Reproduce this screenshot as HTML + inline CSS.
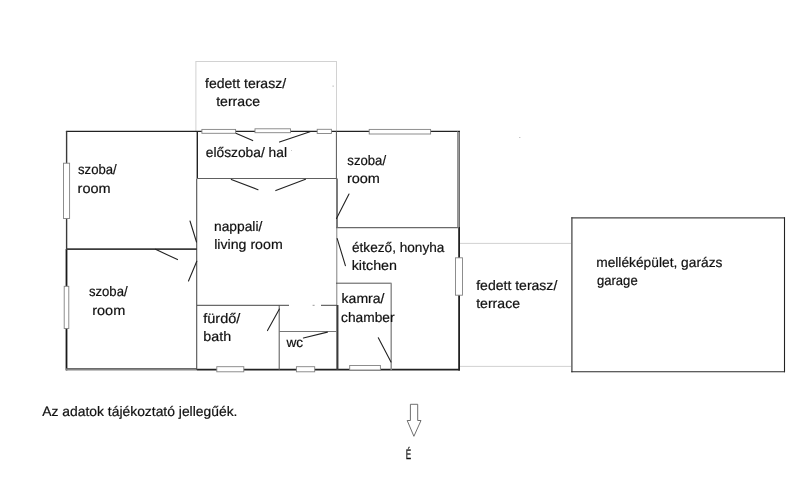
<!DOCTYPE html>
<html lang="hu"><head><meta charset="utf-8"><title>Alaprajz</title>
<style>
html,body{margin:0;padding:0;background:#fff;}
body{width:800px;height:492px;overflow:hidden;}
svg{display:block;filter:grayscale(1);}
text{font-family:"Liberation Sans",sans-serif;fill:#111;stroke:#111;stroke-width:0.2px;text-rendering:geometricPrecision;}
</style></head><body>
<svg width="800" height="492" viewBox="0 0 800 492">
<rect width="800" height="492" fill="#fff"/>
<line x1="195.5" y1="61.5" x2="337" y2="61.5" stroke="#d2d2d2" stroke-width="1" stroke-linecap="butt"/>
<line x1="195.9" y1="61.5" x2="195.9" y2="131" stroke="#d2d2d2" stroke-width="1" stroke-linecap="butt"/>
<line x1="336.5" y1="61.5" x2="336.5" y2="131" stroke="#d2d2d2" stroke-width="1" stroke-linecap="butt"/>
<line x1="459" y1="243.4" x2="571" y2="243.4" stroke="#d2d2d2" stroke-width="1" stroke-linecap="butt"/>
<line x1="459" y1="366.4" x2="571" y2="366.4" stroke="#d2d2d2" stroke-width="1" stroke-linecap="butt"/>
<line x1="65.9" y1="131.4" x2="460" y2="131.4" stroke="#222" stroke-width="1.3" stroke-linecap="butt"/>
<line x1="66.6" y1="131" x2="66.6" y2="249" stroke="#3a3a3a" stroke-width="1.4" stroke-linecap="butt"/>
<line x1="66.5" y1="249" x2="66.5" y2="370.4" stroke="#1a1a1a" stroke-width="1.8" stroke-linecap="butt"/>
<line x1="66" y1="369.4" x2="197" y2="369.4" stroke="#858585" stroke-width="2.3" stroke-linecap="butt"/>
<line x1="66" y1="368.5" x2="197" y2="368.5" stroke="#555" stroke-width="0.7" stroke-linecap="butt"/>
<line x1="197" y1="369.55" x2="460" y2="369.55" stroke="#222" stroke-width="1.8" stroke-linecap="butt"/>
<line x1="457.5" y1="131.4" x2="457.5" y2="227.6" stroke="#888" stroke-width="0.9" stroke-linecap="butt"/>
<line x1="459.1" y1="131" x2="459.1" y2="227.6" stroke="#222" stroke-width="1.1" stroke-linecap="butt"/>
<line x1="459.1" y1="227" x2="459.1" y2="370.4" stroke="#222" stroke-width="1.8" stroke-linecap="butt"/>
<line x1="197.3" y1="131" x2="197.3" y2="179" stroke="#222" stroke-width="1.4" stroke-linecap="butt"/>
<line x1="196.7" y1="179" x2="196.7" y2="370" stroke="#505050" stroke-width="1.1" stroke-linecap="butt"/>
<line x1="336.4" y1="131" x2="336.4" y2="178.4" stroke="#555" stroke-width="1.0" stroke-linecap="butt"/>
<line x1="337" y1="178.4" x2="337" y2="228" stroke="#333" stroke-width="1.3" stroke-linecap="butt"/>
<line x1="336.8" y1="228" x2="336.8" y2="305" stroke="#808080" stroke-width="1.0" stroke-linecap="butt"/>
<line x1="337.4" y1="305" x2="337.4" y2="370" stroke="#3a3a3a" stroke-width="2.1" stroke-linecap="butt"/>
<line x1="197" y1="178.5" x2="337" y2="178.5" stroke="#606060" stroke-width="1.1" stroke-linecap="butt"/>
<line x1="66" y1="249.1" x2="197" y2="249.1" stroke="#3c3c3c" stroke-width="1.6" stroke-linecap="butt"/>
<line x1="336" y1="227.6" x2="459" y2="227.6" stroke="#6a6a6a" stroke-width="1.2" stroke-linecap="butt"/>
<line x1="197" y1="305.3" x2="289" y2="305.3" stroke="#444" stroke-width="1.0" stroke-linecap="butt"/>
<line x1="312.6" y1="305.3" x2="314.6" y2="305.3" stroke="#999" stroke-width="1.0" stroke-linecap="butt"/>
<line x1="321" y1="305.3" x2="337" y2="305.3" stroke="#444" stroke-width="1.0" stroke-linecap="butt"/>
<line x1="279.2" y1="305" x2="279.2" y2="370" stroke="#555" stroke-width="1.0" stroke-linecap="butt"/>
<line x1="279" y1="331.5" x2="337" y2="331.5" stroke="#777" stroke-width="1.0" stroke-linecap="butt"/>
<line x1="336" y1="283.2" x2="391.5" y2="283.2" stroke="#555" stroke-width="1.0" stroke-linecap="butt"/>
<line x1="391.2" y1="283.2" x2="391.2" y2="370" stroke="#8a8a8a" stroke-width="1.4" stroke-linecap="butt"/>
<line x1="235.3" y1="133" x2="252.7" y2="140.6" stroke="#222" stroke-width="1.1" stroke-linecap="round"/>
<line x1="310" y1="131.7" x2="279.5" y2="142" stroke="#222" stroke-width="1.1" stroke-linecap="round"/>
<line x1="231.3" y1="179.4" x2="258" y2="189.7" stroke="#222" stroke-width="1.1" stroke-linecap="round"/>
<line x1="305.5" y1="179.2" x2="275.8" y2="190.6" stroke="#222" stroke-width="1.1" stroke-linecap="round"/>
<line x1="190" y1="221" x2="196.5" y2="242" stroke="#222" stroke-width="1.1" stroke-linecap="round"/>
<line x1="155.5" y1="249.3" x2="177.5" y2="259.6" stroke="#222" stroke-width="1.1" stroke-linecap="round"/>
<line x1="196.8" y1="261.2" x2="188.5" y2="281" stroke="#222" stroke-width="1.1" stroke-linecap="round"/>
<line x1="349" y1="194" x2="336.5" y2="218.5" stroke="#222" stroke-width="1.1" stroke-linecap="round"/>
<line x1="337.2" y1="238.6" x2="345.4" y2="265.6" stroke="#222" stroke-width="1.1" stroke-linecap="round"/>
<line x1="279.4" y1="309.1" x2="267.5" y2="330.6" stroke="#222" stroke-width="1.1" stroke-linecap="round"/>
<line x1="327.4" y1="332.1" x2="303.4" y2="338" stroke="#222" stroke-width="1.1" stroke-linecap="round"/>
<line x1="378.3" y1="337.8" x2="391" y2="361.9" stroke="#222" stroke-width="1.1" stroke-linecap="round"/>
<rect x="201.9" y="129.4" width="33.7" height="3.9" fill="#fff" stroke="#828282" stroke-width="0.9"/>
<rect x="255" y="128.8" width="35.5" height="3.9" fill="#fff" stroke="#828282" stroke-width="0.9"/>
<rect x="317.2" y="129.3" width="14.2" height="4.2" fill="#fff" stroke="#828282" stroke-width="0.9"/>
<rect x="369.2" y="129.4" width="61.4" height="4.6" fill="#fff" stroke="#828282" stroke-width="0.9"/>
<rect x="63.5" y="163.2" width="6.1" height="55.3" fill="#fff" stroke="#828282" stroke-width="0.9"/>
<rect x="64.2" y="286.3" width="4.6" height="42.2" fill="#fff" stroke="#828282" stroke-width="0.9"/>
<rect x="455.5" y="257.8" width="7.0" height="37.4" fill="#fff" stroke="#828282" stroke-width="0.9"/>
<rect x="216.8" y="366.7" width="27.0" height="5.1" fill="#fff" stroke="#828282" stroke-width="0.9"/>
<rect x="296.4" y="366.7" width="18.3" height="5.1" fill="#fff" stroke="#828282" stroke-width="0.9"/>
<rect x="349.7" y="365.5" width="30.7" height="4.5" fill="#fff" stroke="#828282" stroke-width="0.9"/>
<line x1="571.3" y1="217.9" x2="785" y2="217.9" stroke="#444" stroke-width="1.25" stroke-linecap="butt"/>
<line x1="571.9" y1="217.3" x2="571.9" y2="372.2" stroke="#444" stroke-width="1.25" stroke-linecap="butt"/>
<line x1="784.5" y1="217.3" x2="784.5" y2="372.2" stroke="#222" stroke-width="1.1" stroke-linecap="butt"/>
<line x1="571.3" y1="371.7" x2="785" y2="371.7" stroke="#2a2a2a" stroke-width="1.15" stroke-linecap="butt"/>
<path d="M410.4 404.3H417.7V420.5H421L413.9 436.3L407.2 420.5H410.4Z" fill="#fff" stroke="#555" stroke-width="0.85"/>
<rect x="332.6" y="85.6" width="1" height="1" fill="#999"/>
<rect x="291.2" y="150" width="0.8" height="0.8" fill="#aaa"/>
<rect x="519.3" y="137" width="1" height="0.8" fill="#999"/>
<text transform="translate(204.99 87.50) rotate(0.02) scale(1.0250 1)" font-size="13.7">fedett terasz/</text>
<text transform="translate(216.19 105.80) rotate(0.02) scale(1.0287 1)" font-size="13.7">terrace</text>
<text transform="translate(205.74 157.40) rotate(0.02) scale(1.0071 1)" font-size="13.7">előszoba/ hal</text>
<text transform="translate(78.05 173.70) rotate(0.02) scale(0.9597 1)" font-size="13.7">szoba/</text>
<text transform="translate(77.58 192.60) rotate(0.02) scale(1.0591 1)" font-size="13.7">room</text>
<text transform="translate(347.35 164.50) rotate(0.02) scale(0.9597 1)" font-size="13.7">szoba/</text>
<text transform="translate(346.91 182.50) rotate(0.02) scale(1.0591 1)" font-size="13.7">room</text>
<text transform="translate(213.98 230.70) rotate(0.02) scale(1.0083 1)" font-size="13.7">nappali/</text>
<text transform="translate(214.16 248.90) rotate(0.02) scale(1.0354 1)" font-size="13.7">living room</text>
<text transform="translate(352.01 252.10) rotate(0.02) scale(0.9949 1)" font-size="13.7">étkező, honyha</text>
<text transform="translate(351.69 270.30) rotate(0.02) scale(1.0458 1)" font-size="13.7">kitchen</text>
<text transform="translate(88.90 296.30) rotate(0.02) scale(0.9597 1)" font-size="13.7">szoba/</text>
<text transform="translate(92.19 314.60) rotate(0.02) scale(1.0591 1)" font-size="13.7">room</text>
<text transform="translate(203.21 323.40) rotate(0.02) scale(1.0601 1)" font-size="13.7">fürdő/</text>
<text transform="translate(203.32 341.30) rotate(0.02) scale(1.0420 1)" font-size="13.7">bath</text>
<text transform="translate(286.51 347.10) rotate(0.02) scale(0.9960 1)" font-size="13.7">wc</text>
<text transform="translate(341.58 303.20) rotate(0.02) scale(1.0265 1)" font-size="13.7">kamra/</text>
<text transform="translate(341.05 322.10) rotate(0.02) scale(1.0040 1)" font-size="13.7">chamber</text>
<text transform="translate(476.18 290.45) rotate(0.02) scale(1.0250 1)" font-size="13.7">fedett terasz/</text>
<text transform="translate(476.19 308.45) rotate(0.02) scale(1.0287 1)" font-size="13.7">terrace</text>
<text transform="translate(596.20 266.90) rotate(0.02) scale(1.0053 1)" font-size="13.7">melléképület, garázs</text>
<text transform="translate(596.93 284.80) rotate(0.02) scale(0.9560 1)" font-size="13.7">garage</text>
<text transform="translate(42.22 415.60) rotate(0.02) scale(1.0141 1)" font-size="13.7">Az adatok tájékoztató jellegűék.</text>
<text transform="translate(405.87 459.25) rotate(0.02) scale(0.5849 1)" font-size="13.9" style="stroke-width:0.3px">É</text>
</svg>
</body></html>
